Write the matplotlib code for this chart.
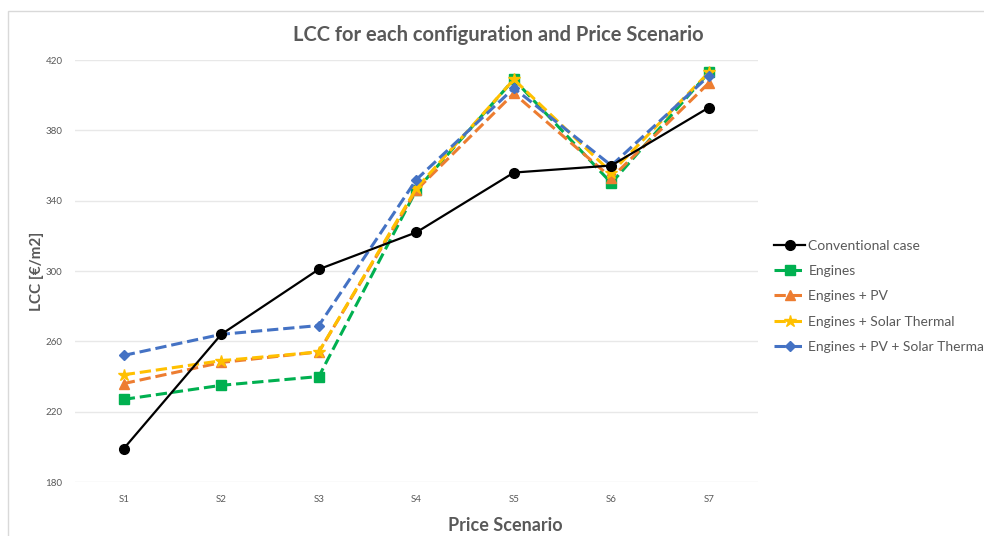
import matplotlib.pyplot as plt
import numpy as np
from matplotlib.patches import Rectangle

plt.rcParams['font.family'] = ['Lato', 'DejaVu Sans']

# Data for the plot
scenarios = ['S1', 'S2', 'S3', 'S4', 'S5', 'S6', 'S7']
conventional = [199, 264, 301, 322, 356, 360, 393]
engines = [227, 235, 240, 346, 409, 350, 413]
engines_pv = [236, 248, 254, 346, 401, 353, 407]
engines_st = [241, 249, 254, 347, 409, 356, 413]
engines_pv_st = [252, 264, 269, 352, 404, 360, 411]

fig = plt.figure(figsize=(9.84, 5.36), dpi=100)
ax = fig.add_axes([0.0762, 0.1007, 0.6938, 0.7873])

# light frame around the chart area like in the spreadsheet export
fig.patches.append(Rectangle((8 / 984, -0.01), 1.0, 1 - 11 / 536 + 0.01,
                             transform=fig.transFigure, fill=False,
                             edgecolor='#d9d9d9', linewidth=1))

x = np.arange(len(scenarios))
ax.plot(x, conventional, '-o', color='black', lw=1.6, ms=7, label='Conventional case', zorder=6)
ax.plot(x, engines, '--s', color='#00b050', lw=2.2, ms=7, label='Engines', zorder=3)
ax.plot(x, engines_pv, '--^', color='#ed7d31', lw=2.2, ms=7, label='Engines + PV', zorder=4)
ax.plot(x, engines_st, '--*', color='#ffc000', lw=2.2, ms=9, label='Engines + Solar Thermal', zorder=4)
ax.plot(x, engines_pv_st, '--D', color='#4472c4', lw=2.2, ms=5.5, label='Engines + PV + Solar Thermal', zorder=5)

ax.set_xlim(-0.5, len(scenarios) - 0.5)
ax.set_ylim(180, 420)
ax.set_yticks(np.arange(180, 421, 40))
ax.set_xticks(x)
ax.set_xticklabels(scenarios)
ax.tick_params(axis='both', length=0, labelsize=7, labelcolor='#595959')
ax.tick_params(axis='y', pad=9)
ax.tick_params(axis='x', pad=9)

ax.grid(True, axis='y', color='#e8e8e8', linewidth=1)
ax.set_axisbelow(True)
for s in ax.spines.values():
    s.set_visible(False)

ax.set_title('LCC for each configuration and Price Scenario', fontsize=14.5,
             fontweight='bold', color='#595959', pad=14, x=0.62)
ax.set_xlabel('Price Scenario', fontsize=13, fontweight='bold', color='#595959')
ax.xaxis.set_label_coords(0.63, -0.082)
ax.set_ylabel('LCC [€/m2]', fontsize=11, fontweight='bold', color='#595959')
ax.yaxis.set_label_coords(-0.046, 0.5)

ax.legend(loc='center left', bbox_to_anchor=(1.01, 0.44), frameon=False,
          fontsize=10, handlelength=2.2, labelcolor='#595959', labelspacing=0.95,
          handletextpad=0.25, borderaxespad=0.3)

plt.savefig('out.png', dpi=100)
